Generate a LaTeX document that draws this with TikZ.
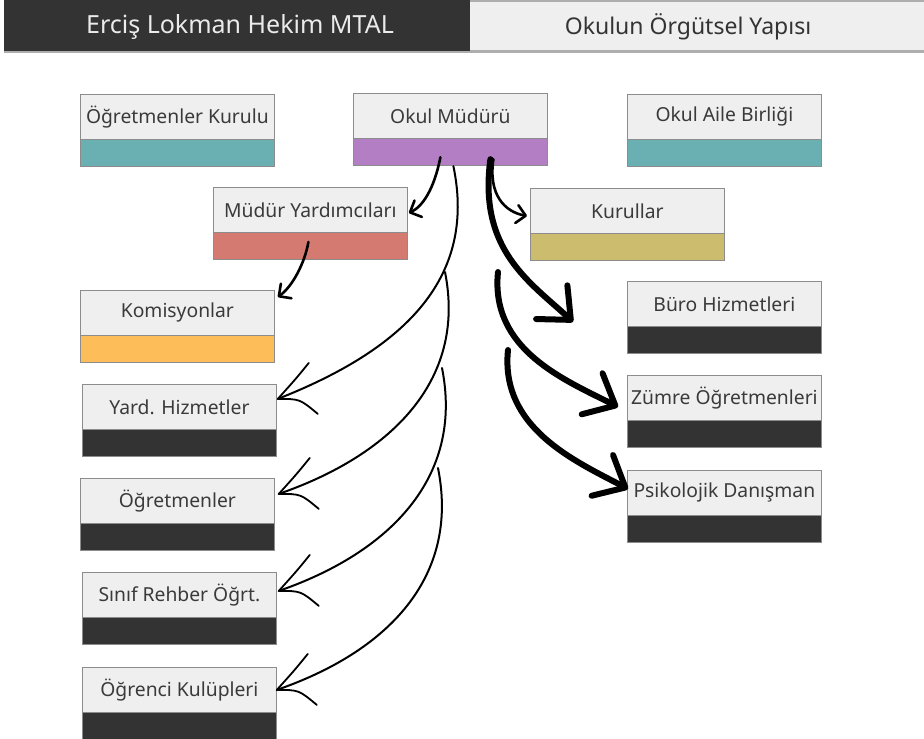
\documentclass[tikz,border=0pt]{standalone}
\usepackage{fontspec}
\setmainfont{Noto Sans}
\usetikzlibrary{arrows.meta,calc}
\definecolor{boxbg}{HTML}{EFEFEF}
\definecolor{boxline}{HTML}{8C8C8C}
\definecolor{dark}{HTML}{333333}
\definecolor{txt}{HTML}{3A3A3A}
\definecolor{teal}{HTML}{6AAFB2}
\definecolor{purp}{HTML}{B47EC5}
\definecolor{salmon}{HTML}{D57A70}
\definecolor{khaki}{HTML}{CBBD6D}
\definecolor{orng}{HTML}{FDBD58}
\tikzset{
  boxtext/.style={draw=boxline, line width=0.8pt, fill=boxbg, minimum width=194pt, minimum height=45pt,
    inner sep=0pt, anchor=north west, text=txt, font=\fontsize{19.3}{21}\selectfont},
  band/.style={minimum width=194pt, minimum height=26pt, inner sep=0pt, anchor=north, draw=none},
  outline/.style={draw=boxline, line width=0.8pt},
  sketch/.style={line width=2pt, line cap=round},
  barb/.style={line width=1.8pt, line cap=round, line join=round},
  thinarr/.style={line width=2.6pt, line cap=round, -{Straight Barb[length=9pt,width=18pt,round]}},
  thickarr/.style={line width=6pt, line cap=round, -{Straight Barb[length=26pt,width=46pt,round]}},
  hdr/.style={inner sep=0pt}
}
\newcommand\obox[5]{%
  \node[boxtext] (#1) at (#2,#3) {#4};
  \node[band, fill=#5] (#1b) at (#1.south) {};
  \draw[outline] (#1.north west) rectangle (#1b.south east);
}
\newcommand\sbarb[1]{%
  \draw[barb] ($(#1)+(31,-36)$) .. controls ($(#1)+(18,-20)$) .. (#1)
    .. controls ($(#1)+(22,0)$) .. ($(#1)+(40,15)$);
}
\begin{document}
\begin{tikzpicture}[x=1pt,y=-1pt]
\useasboundingbox (0,0) rectangle (924,739);
% header
\fill[white] (0,0) rectangle (924,739);
\fill[boxline!70] (4,0) rectangle (924,53);
\fill[boxbg] (470,2) rectangle (924,50);
\fill[dark] (4,0) rectangle (470,51);
\node[hdr, text=white!92!black, font=\fontsize{25}{28}\selectfont] (h1) at (240,27) {Erciş Lokman Hekim MTAL};
\node[hdr, text=dark, font=\fontsize{23}{26}\selectfont] (h2) at (688,27) {Okulun Örgütsel Yapısı};
% boxes
\obox{okurul}{80}{94}{Öğretmenler Kurulu}{teal}
\obox{mud}{353}{93}{Okul Müdürü}{purp}
\obox{aile}{627}{94}{Okul Aile Birliği}{teal}
\obox{myard}{213}{187}{Müdür Yardımcıları}{salmon}
\obox{kurul}{530}{188}{Kurullar}{khaki}
\obox{komis}{80}{290}{Komisyonlar}{orng}
\obox{buro}{627}{281}{Büro Hizmetleri}{dark}
\obox{yard}{82}{384}{Yard. Hizmetler}{dark}
\obox{zumre}{627}{375}{Zümre Öğretmenleri}{dark}
\obox{ogret}{80}{478}{Öğretmenler}{dark}
\obox{psik}{627}{470}{Psikolojik Danışman}{dark}
\obox{sinif}{82}{572}{Sınıf Rehber Öğrt.}{dark}
\obox{ogrenci}{82}{667}{Öğrenci Kulüpleri}{dark}
% coordinates
\coordinate (s1) at ($(mudb.south)+(3,1)$);
\coordinate (s2) at (445,272);
\coordinate (s3) at (442,368);
\coordinate (s4) at (438,468);
\coordinate (t1) at ($(yard.east)+(1,-8)$);
\coordinate (t2) at ($(ogret.east)+(4,-7)$);
\coordinate (t3) at ($(sinif.east)+(2,-4)$);
\coordinate (t4) at ($(ogrenci.east)+(0,0)$);
% sketchy sweeping connectors
\draw[sketch] (s1) .. controls ($(s1)+(24,115)$) and ($(t1)+(122,-48)$) .. (t1);
\draw[sketch] (s2) .. controls ($(s2)+(22,110)$) and ($(t2)+(110,-38)$) .. (t2);
\draw[sketch] (s3) .. controls ($(s3)+(22,110)$) and ($(t3)+(110,-38)$) .. (t3);
\draw[sketch] (s4) .. controls ($(s4)+(22,110)$) and ($(t4)+(110,-38)$) .. (t4);
\sbarb{t1}
\sbarb{t2}
\sbarb{t3}
\sbarb{t4}
% thin arrows
\draw[thinarr] ($(mudb.south)+(-10,-8)$) .. controls (434,190) and (422,207) .. ($(myard.east)+(1,3)$);
\draw[thinarr] ($(mudb.south)+(43,-6)$) .. controls (488,195) and (505,212) .. ($(kurul.west)+(-3,5)$);
\draw[thinarr] ($(myardb.center)+(-2,-4)$) .. controls (305,262) and (293,286) .. ($(komis.north east)+(3,7)$);
% thick arrows
\draw[thickarr] ($(mudb.south)+(40,-6)$) .. controls (478,250) and (530,282) .. ($(buro.west)+(-54,18)$);
\draw[thickarr] (498,272) .. controls (490,350) and (565,380) .. ($(zumre.west)+(-9,9)$);
\draw[thickarr] (508,350) .. controls (500,428) and (575,461) .. ($(psik.west)+(1,-4)$);
\end{tikzpicture}
\end{document}
